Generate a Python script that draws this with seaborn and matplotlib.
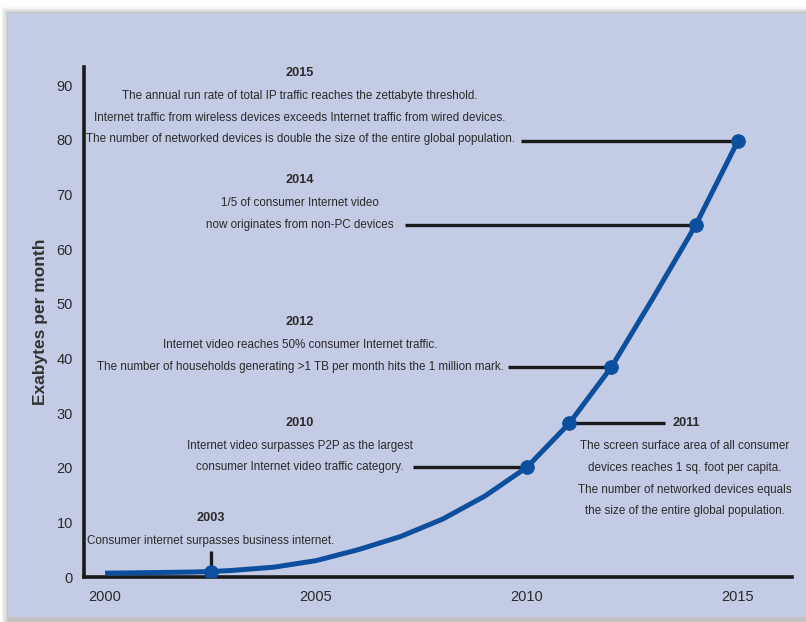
import matplotlib
matplotlib.use("Agg")
import matplotlib.pyplot as plt
import matplotlib.patches as mpatches
import seaborn as sns
import pandas as pd

# curve values (exabytes per month)
years = [2000, 2001, 2002, 2002.5, 2003, 2004, 2005, 2006, 2007, 2008, 2009,
         2010, 2011, 2012, 2013, 2014, 2015]
traffic = [0.7, 0.8, 0.9, 1.0, 1.2, 1.8, 3.0, 5.0, 7.4, 10.6, 14.8,
           20.1, 28.1, 38.4, 51.2, 64.4, 79.8]

# milestone points on the curve
event_years = [2002.5, 2010, 2011, 2012, 2014, 2015]
event_values = [1.0, 20.1, 28.1, 38.4, 64.4, 79.8]

x_ticks = [2000, 2005, 2010, 2015]
y_ticks = [0, 10, 20, 30, 40, 50, 60, 70, 80, 90]

notes_2015 = ["The annual run rate of total IP traffic reaches the zettabyte threshold.",
              "Internet traffic from wireless devices exceeds Internet traffic from wired devices.",
              "The number of networked devices is double the size of the entire global population."]
notes_2014 = ["1/5 of consumer Internet video",
              "now originates from non-PC devices"]
notes_2012 = ["Internet video reaches 50% consumer Internet traffic.",
              "The number of households generating >1 TB per month hits the 1 million mark."]
notes_2010 = ["Internet video surpasses P2P as the largest",
              "consumer Internet video traffic category."]
notes_2003 = ["Consumer internet surpasses business internet."]
notes_2011 = ["The screen surface area of all consumer",
              "devices reaches 1 sq. foot per capita.",
              "The number of networked devices equals",
              "the size of the entire global population."]

curve = pd.DataFrame({"year": years, "traffic": traffic})
events = pd.DataFrame({"year": event_years, "traffic": event_values})

BG = "#C4CBE5"
BLUE = "#0B4F9E"
INK = "#2b2b2b"
FONT = ["Liberation Sans", "DejaVu Sans"]

sns.set_style("white")
plt.rcParams["font.family"] = FONT

fig = plt.figure(figsize=(8.06, 6.22), dpi=100, facecolor="white")

# panel with a soft shadow
for i, a in enumerate([0.05, 0.08, 0.12]):
    off = (3 - i) * 0.003
    fig.patches.append(mpatches.Rectangle((0.010 - off, 0.0), 1.0, 0.980 + off,
                                          transform=fig.transFigure,
                                          facecolor="black", alpha=a, zorder=-3))
fig.patches.append(mpatches.Rectangle((0.010, 0.008), 1.0, 0.971,
                                      transform=fig.transFigure,
                                      facecolor=BG, edgecolor="none", zorder=-2))

ax = fig.add_axes([0.1042, 0.0723, 0.8784, 0.820])
ax.set_facecolor(BG)

sns.lineplot(data=curve, x="year", y="traffic", ax=ax, color=BLUE, lw=3.6,
             solid_capstyle="butt", zorder=3)
sns.scatterplot(data=events, x="year", y="traffic", ax=ax, color=BLUE, s=95,
                edgecolor=BLUE, zorder=4)

ax.set_xlim(1999.5, 2016.28)
ax.set_ylim(0, 93.3)
ax.set_xticks(x_ticks)
ax.set_yticks(y_ticks)
ax.tick_params(length=0, labelsize=10.5, colors=INK)
ax.tick_params(axis="y", pad=8)
ax.tick_params(axis="x", pad=9)
for s in ["top", "right"]:
    ax.spines[s].set_visible(False)
for s in ["left", "bottom"]:
    ax.spines[s].set_linewidth(2.6)
    ax.spines[s].set_color("#1a1a1a")
ax.set_xlabel("")
ax.set_ylabel("Exabytes per month", fontsize=12.5, fontweight="bold", color="#333333",
              labelpad=6)

LS = 3.95  # line step in data units
NOTE = 8.4
HEAD = 9.2


def block(cx, top_y, title, lines):
    ax.text(cx, top_y, title, ha="center", va="center", fontsize=HEAD,
            color=INK, fontweight="bold")
    y = top_y - 4.2
    for ln in lines:
        ax.text(cx, y, ln, ha="center", va="center", fontsize=NOTE, color=INK)
        y -= LS


lead = dict(color="#1a1a1a", lw=2.4, zorder=2, solid_capstyle="butt")

# 2015
block(2004.62, 92.2, "2015", notes_2015)
ax.plot([2009.85, event_years[5]], [event_values[5]] * 2, **lead)
# 2014
block(2004.62, 72.6, "2014", notes_2014)
ax.plot([2007.12, event_years[4]], [event_values[4]] * 2, **lead)
# 2012
block(2004.62, 46.6, "2012", notes_2012)
ax.plot([2009.55, event_years[3]], [event_values[3]] * 2, **lead)
# 2010
block(2004.62, 28.2, "2010", notes_2010)
ax.plot([2007.3, event_years[1]], [event_values[1]] * 2, **lead)
# 2003
block(event_years[0], 10.8, "2003", notes_2003)
ax.plot([event_years[0]] * 2, [4.7, event_values[0]], **lead)
# 2011
ax.plot([event_years[2], 2013.27], [event_values[2]] * 2, **lead)
ax.text(2013.46, event_values[2], "2011", ha="left", va="center", fontsize=HEAD,
        color=INK, fontweight="bold")
y = event_values[2] - 4.2
for ln in notes_2011:
    ax.text(2013.74, y, ln, ha="center", va="center", fontsize=NOTE, color=INK)
    y -= LS

fig.savefig("out.png", dpi=100, facecolor="white")
